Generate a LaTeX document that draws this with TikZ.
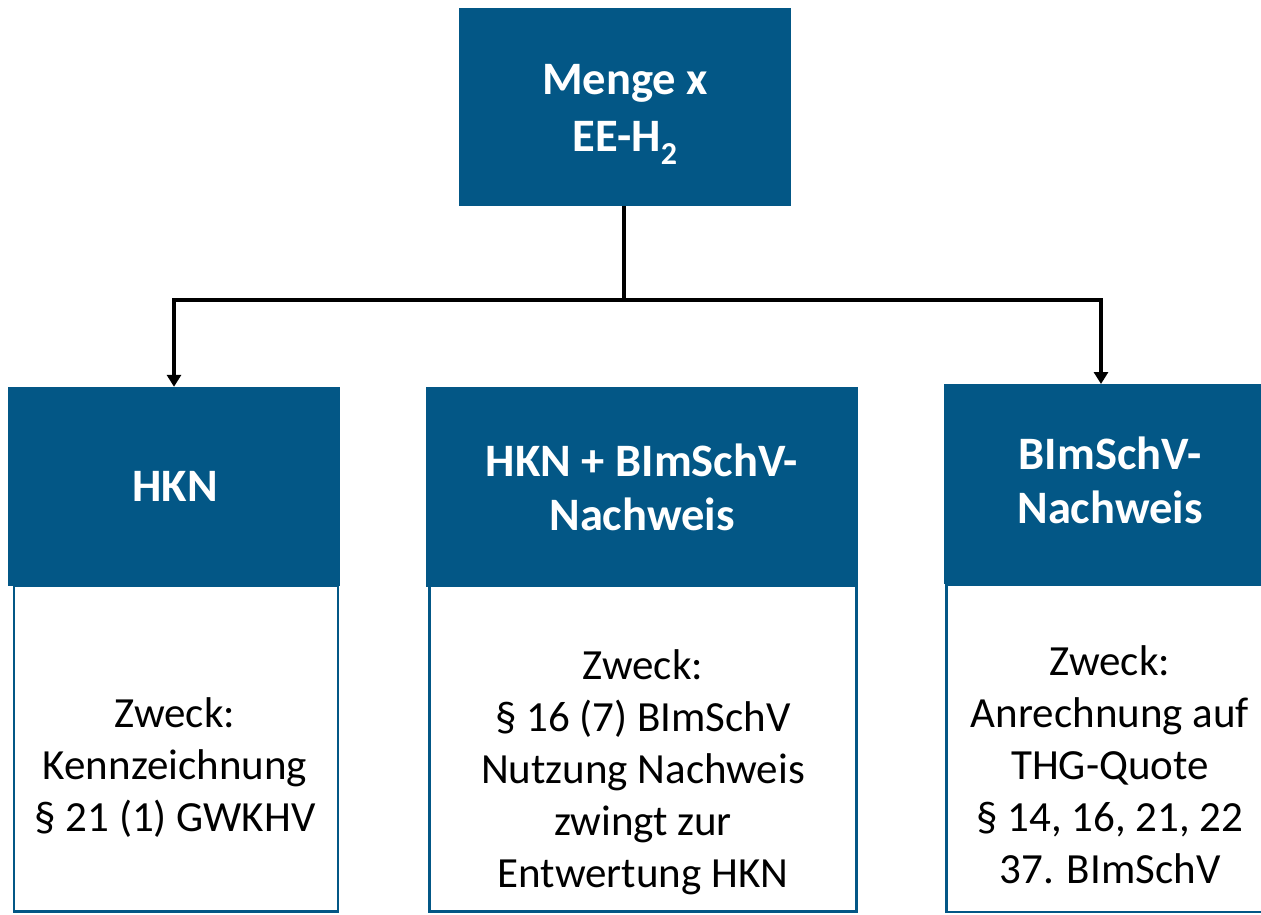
\documentclass[tikz,border=0pt]{standalone}
\usepackage{fontspec}
\setmainfont{Carlito}
\usetikzlibrary{arrows.meta}
\definecolor{hdrblue}{RGB}{3,87,134}
\tikzset{
  hdr/.style={fill=hdrblue, draw=none, inner sep=0pt},
  body/.style={fill=white, draw=hdrblue, line width=2.5pt, inner sep=0pt},
  hdrtext/.style={text=white, align=center, anchor=base, inner sep=0pt, font=\bfseries\fontsize{46.5}{54}\selectfont},
  bodytext/.style={text=black, align=center, anchor=base, inner sep=0pt, font=\fontsize{43}{52}\selectfont},
  conn/.style={draw=black, line width=3.5pt},
  arr/.style={conn, -{Triangle[width=14pt,length=12pt]}}
}
\begin{document}
\begin{tikzpicture}[x=1pt,y=-1pt]
\useasboundingbox (0,0) rectangle (1261,914);
\clip (0,0) rectangle (1261,914);
% top box
\node[hdr, minimum width=332pt, minimum height=198pt] (top) at (625,107) {};
\node[hdrtext, font=\bfseries\fontsize{46.5}{57}\selectfont] (toptext) at (625,151) {Menge x\\EE-H\raisebox{-0.28em}{\fontsize{32}{32}\selectfont 2}};
% body boxes
\node[body, minimum width=324pt, minimum height=325.5pt] (b1) at (176,748.75) {};
\node[body, minimum width=427pt, minimum height=325.5pt] (b2) at (643,748.75) {};
\node[body, minimum width=327pt, minimum height=327pt] (b3) at (1110,748.5) {};
% headers
\node[hdr, minimum width=332pt, minimum height=199pt] (h1) at (174,486.5) {};
\node[hdr, minimum width=432pt, minimum height=200pt] (h2) at (642,487) {};
\node[hdr, minimum width=332pt, minimum height=200pt] (h3) at (1110,484) {};
% header texts
\node[hdrtext] (h1t) at (175,501) {HKN};
\node[hdrtext] (h2t) at (642,530) {HKN + BImSchV-\\Nachweis};
\node[hdrtext] (h3t) at (1110,523) {BImSchV-\\Nachweis};
% body texts
\node[bodytext] (b1t) at (175,831) {Zweck:\\Kennzeichnung\\§ 21 (1) GWKHV};
\node[bodytext] (b2t) at (643,887) {Zweck:\\§ 16 (7) BImSchV\\Nutzung Nachweis\\zwingt zur\\Entwertung HKN};
\node[bodytext] (b3t) at (1110,883) {Zweck:\\Anrechnung auf\\THG-Quote\\§ 14, 16, 21, 22\\37. BImSchV};
% connectors
\coordinate (split) at (624,300);
\coordinate (h3in) at (1101,384);
\draw[conn] (top.south -| split) -- (split);
\draw[arr] (split) -| (h1.north);
\draw[arr] (split) -| (h3in);
\end{tikzpicture}
\end{document}
